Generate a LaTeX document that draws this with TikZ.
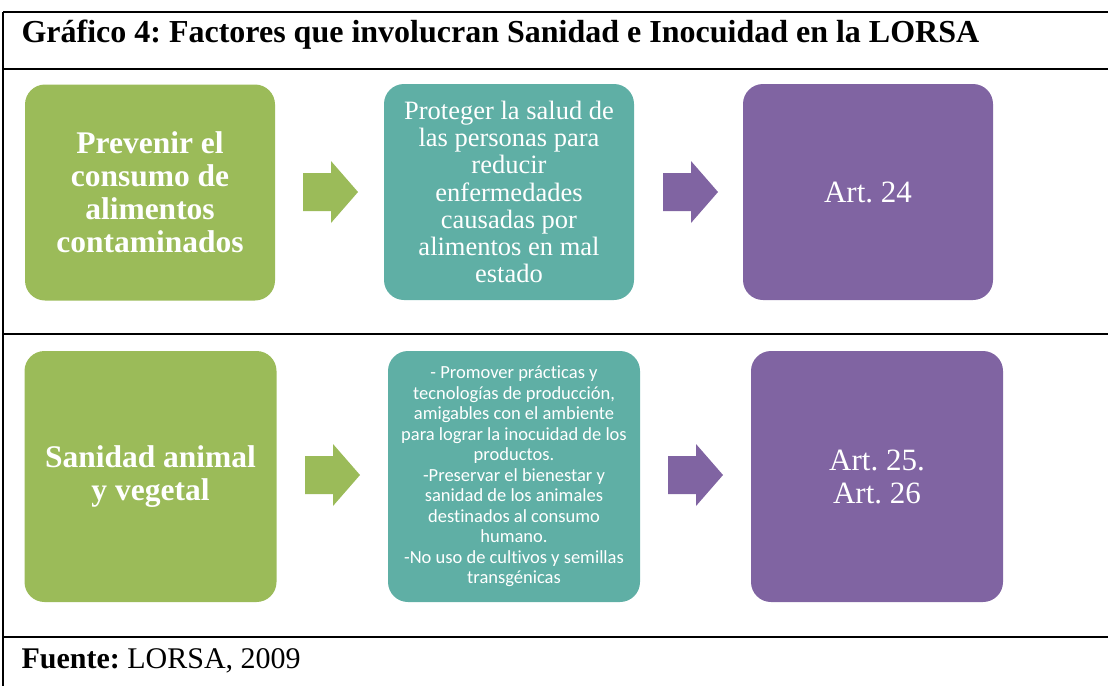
\documentclass[tikz,border=0pt]{standalone}
\usepackage{fontspec}
\setmainfont{Liberation Serif}
\newfontfamily\calibri[Ligatures=NoCommon]{Carlito}
\frenchspacing
\definecolor{verde}{HTML}{9BBB59}
\definecolor{turquesa}{HTML}{5FAFA5}
\definecolor{morado}{HTML}{8064A2}
\tikzset{
	caja/.style={rounded corners=20pt, text=white, align=center, inner sep=0pt},
	fila1/.style={caja, minimum width=250pt, minimum height=216pt},
	fila2/.style={caja, minimum width=252pt, minimum height=251pt},
	raya/.style={line width=1.6pt},
}
% flecha gruesa: #1 = color, (#2,#3) = punta izquierda, centro
\newcommand{\flecha}[3]{%
	\fill[#1] (#2,#3-19) -- (#2+28,#3-19) -- (#2+28,#3-31) -- (#2+55,#3)
		-- (#2+28,#3+31) -- (#2+28,#3+19) -- (#2,#3+19) -- cycle;}
\begin{document}
\begin{tikzpicture}[x=1pt,y=-1pt]
	\useasboundingbox (0,0) rectangle (1108,686);
	% marco de la tabla
	\draw[raya] (3,12) -- (3,686);
	\draw[raya] (3,12) -- (1108,12);
	\draw[raya] (3,69) -- (1108,69);
	\draw[raya] (3,334) -- (1108,334);
	\draw[raya] (3,637) -- (1108,637);
	\node[anchor=west, font=\fontsize{32}{34}\selectfont\bfseries] (titulo) at (18,35)
		{Gráfico 4: Factores que involucran Sanidad e Inocuidad en la LORSA};
	\node[anchor=west, font=\fontsize{30}{32}\selectfont] (fuente) at (18,661)
		{\textbf{Fuente:} LORSA, 2009};
	% primera fila
	\node[fila1, fill=verde, font=\fontsize{31.5}{33}\selectfont\bfseries] (prevenir) at (150,192.5)
		{Prevenir el\\consumo de\\alimentos\\contaminados};
	\node[fila1, fill=turquesa, font=\fontsize{26.5}{27.3}\selectfont] (proteger) at (509,192)
		{Proteger la salud de\\las personas para\\reducir\\enfermedades\\causadas por\\alimentos en mal\\estado};
	\node[fila1, fill=morado, font=\fontsize{31}{33}\selectfont] (art24) at (868,192) {Art. 24};
	\flecha{verde}{303}{192}
	\flecha{morado}{663}{192}
	% segunda fila
	\node[fila2, fill=verde, font=\fontsize{31.5}{33}\selectfont\bfseries] (sanidad) at (150.5,476.5)
		{Sanidad animal\\y vegetal};
	\node[fila2, fill=turquesa, font=\fontsize{18.5}{20.5}\selectfont\calibri] (promover) at (514,476.5)
		{- Promover prácticas y\\tecnologías de producción,\\amigables con el ambiente\\para lograr la inocuidad de los\\productos.\\-Preservar el bienestar y\\sanidad de los animales\\destinados al consumo\\humano.\\-No uso de cultivos y semillas\\transgénicas};
	\node[fila2, fill=morado, font=\fontsize{31}{33}\selectfont] (art25) at (877,476.5) {Art. 25.\\Art. 26};
	\flecha{verde}{305}{475}
	\flecha{morado}{668}{475}
\end{tikzpicture}
\end{document}
